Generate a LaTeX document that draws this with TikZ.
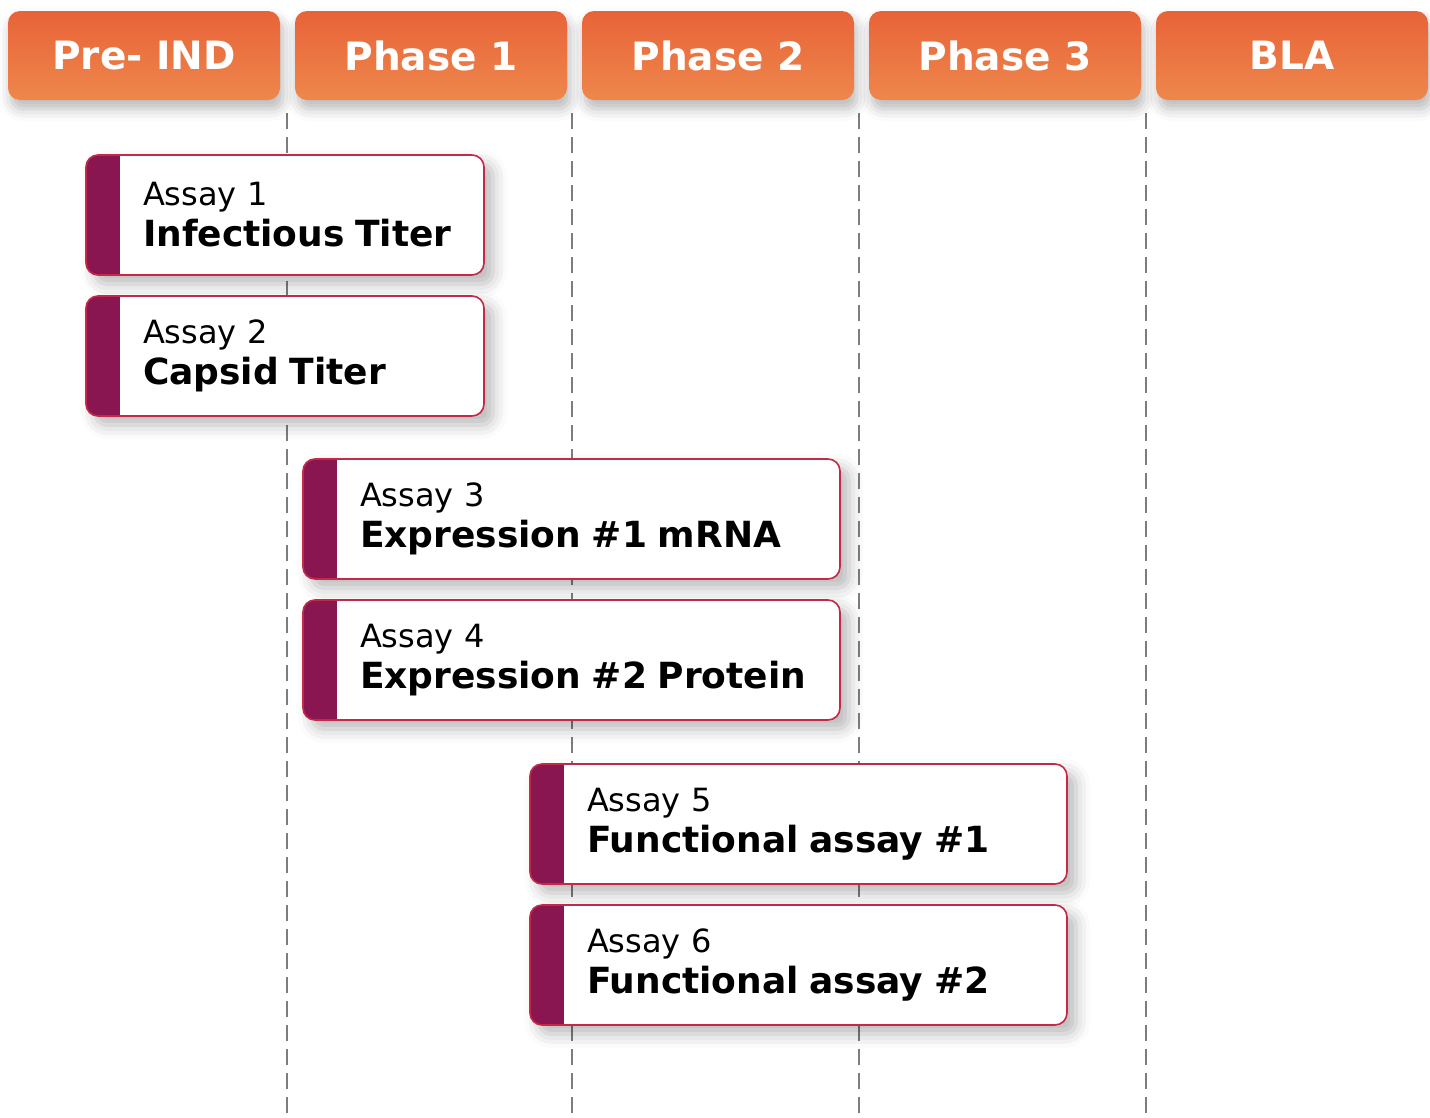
\documentclass[tikz,border=0pt]{standalone}
\usepackage{fontspec}
\setmainfont{DejaVu Sans}
\usetikzlibrary{positioning, shadows.blur}

\definecolor{phaseTop}{RGB}{232,99,56}
\definecolor{phaseBot}{RGB}{238,135,76}
\definecolor{assayStrip}{RGB}{137,22,80}
\definecolor{assayEdge}{RGB}{196,42,72}
\definecolor{gridLine}{RGB}{125,125,125}

\newcommand{\assayname}[1]{\mbox{\fontsize{36}{41}\selectfont\bfseries #1}}

\begin{document}
\begin{tikzpicture} [
    x=1pt, y=-1pt,
    phase/.style={rounded corners=12pt,
        top color=phaseTop, bottom color=phaseBot,
        minimum width=272pt, minimum height=89pt,
        inner sep=0pt, outer sep=0pt, anchor=north west,
        text=white, font=\fontsize{39}{46}\selectfont\bfseries,
        blur shadow={shadow xshift=3pt, shadow yshift=-9pt,
            shadow blur radius=12pt, shadow opacity=28}},
    assay/.style={draw=assayEdge, line width=1.6pt,
        fill=white, rounded corners=12pt,
        minimum height=120pt, inner xsep=57pt, inner ysep=0pt,
        outer sep=0pt, anchor=north west, align=left, text width=#1,
        font=\fontsize{32}{41}\selectfont,
        path picture={\fill[assayStrip, sharp corners]
            (path picture bounding box.north west) rectangle
            ([xshift=34pt]path picture bounding box.south west);},
        blur shadow={shadow xshift=9pt, shadow yshift=-9pt,
            shadow blur radius=14pt, shadow opacity=28}},
    gridline/.style={gridLine, line width=1.3pt,
        dash pattern=on 16pt off 8pt}]

\useasboundingbox (0,0) rectangle (1430,1117);

% Phase borders
\foreach \x in {287, 572, 859, 1146}
    \draw [gridline] (\x,113) -- (\x,1117);

% Phases
\node (preind) [phase] at (8,11) {Pre- IND};
\node (phase1) [phase, right=15pt of preind] {Phase 1};
\node (phase2) [phase, right=15pt of phase1] {Phase 2};
\node (phase3) [phase, right=15pt of phase2] {Phase 3};
\node (bla) [phase, right=15pt of phase3] {BLA};

% Assays
\node (assay1) [assay=284pt] at (86,155)
    {Assay 1\\\assayname{Infectious Titer}};
\node (assay2) [assay=284pt, below=21pt of assay1]
    {Assay 2\\\assayname{Capsid Titer}};

\node (assay3) [assay=423pt] at (303,459)
    {Assay 3\\\assayname{Expression \#1 mRNA}};
\node (assay4) [assay=423pt, below=21pt of assay3]
    {Assay 4\\\assayname{Expression \#2 Protein}};

\node (assay5) [assay=423pt] at (530,764)
    {Assay 5\\\assayname{Functional assay \#1}};
\node (assay6) [assay=423pt, below=21pt of assay5]
    {Assay 6\\\assayname{Functional assay \#2}};
\end{tikzpicture}
\end{document}
